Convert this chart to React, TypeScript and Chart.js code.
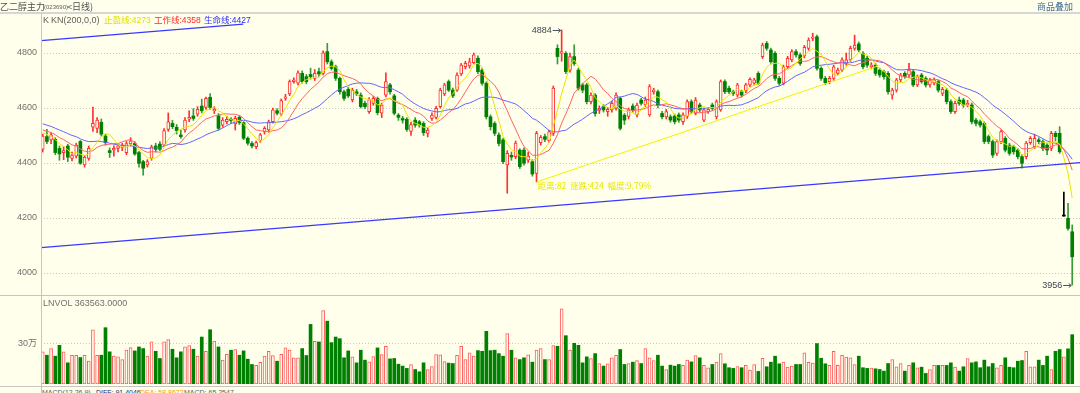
import React, { useEffect, useRef } from "react";
import { Chart, registerables } from "chart.js";

Chart.register(...registerables);

const FONT = "'Liberation Sans', Arial, 'Noto Sans CJK SC', sans-serif";
const CJK = "'Noto Sans CJK SC', 'Liberation Sans', sans-serif";
const BG = "#ffffec";
const UP = "#ff3030";
const DOWN = "#008000";
const DOJI = "#000000";

// ---------- data (daily candles) ----------
const opens = [
  4450, 4496, 4484, 4486, 4453, 4438, 4462, 4417, 4425, 4478,
  4393, 4417, 4530, 4526, 4548, 4498, 4445, 4447, 4453, 4457,
  4438, 4469, 4471, 4438, 4405, 4393, 4417, 4462, 4469, 4465,
  4522, 4544, 4530, 4502, 4520, 4559, 4571, 4578, 4607, 4602,
  4639, 4590, 4574, 4538, 4550, 4559, 4542, 4566, 4547, 4490,
  4471, 4459, 4481, 4514, 4520, 4550, 4590, 4578, 4635, 4651,
  4696, 4690, 4726, 4714, 4722, 4708, 4732, 4726, 4805, 4768,
  4750, 4708, 4659, 4668, 4629, 4659, 4647, 4617, 4587, 4617,
  4635, 4581, 4647, 4684, 4644, 4574, 4562, 4559, 4515, 4556,
  4550, 4544, 4508, 4562, 4566, 4605, 4651, 4696, 4665, 4665,
  4724, 4750, 4753, 4765, 4781, 4738, 4690, 4568, 4544, 4502,
  4484, 4393, 4428, 4423, 4447, 4447, 4410, 4405, 4362, 4474,
  4496, 4481, 4508, 4817, 4799, 4799, 4738, 4787, 4738, 4684,
  4684, 4623, 4647, 4591, 4605, 4587, 4593, 4599, 4635, 4574,
  4569, 4607, 4575, 4629, 4611, 4575, 4659, 4659, 4580, 4568,
  4568, 4571, 4575, 4550, 4569, 4623, 4580, 4611, 4556, 4587,
  4611, 4568, 4593, 4696, 4672, 4659, 4647, 4659, 4663, 4684,
  4690, 4726, 4787, 4835, 4811, 4799, 4708, 4690, 4750, 4775,
  4805, 4793, 4789, 4817, 4853, 4859, 4744, 4708, 4696, 4708,
  4726, 4738, 4762, 4775, 4817, 4833, 4799, 4781, 4750, 4756,
  4738, 4732, 4726, 4647, 4665, 4702, 4726, 4720, 4732, 4684,
  4720, 4708, 4684, 4690, 4696, 4653, 4665, 4623, 4587, 4629,
  4629, 4611, 4611, 4556, 4550, 4544, 4496, 4478, 4435, 4478,
  4490, 4465, 4459, 4447, 4423, 4423, 4474, 4459, 4484, 4478,
  4465, 4453, 4508, 4508, 4207, 4199, 4150,
];
const closes = [
  4498, 4478, 4502, 4438, 4433, 4445, 4421, 4429, 4465, 4399,
  4421, 4453, 4544, 4556, 4505, 4474, 4438, 4453, 4462, 4465,
  4471, 4481, 4433, 4399, 4381, 4405, 4459, 4450, 4450, 4518,
  4550, 4532, 4518, 4496, 4556, 4566, 4562, 4595, 4590, 4635,
  4602, 4595, 4526, 4556, 4559, 4554, 4562, 4547, 4490, 4472,
  4462, 4474, 4502, 4526, 4550, 4593, 4581, 4627, 4641, 4696,
  4702, 4728, 4696, 4696, 4714, 4726, 4724, 4801, 4768, 4744,
  4708, 4659, 4635, 4644, 4665, 4651, 4605, 4605, 4631, 4635,
  4583, 4611, 4696, 4659, 4581, 4566, 4556, 4522, 4540, 4538,
  4538, 4510, 4520, 4574, 4599, 4665, 4684, 4665, 4644, 4720,
  4756, 4762, 4768, 4793, 4732, 4690, 4568, 4532, 4508, 4471,
  4405, 4435, 4422, 4472, 4387, 4399, 4425, 4360, 4508, 4493,
  4486, 4514, 4672, 4787, 4805, 4732, 4787, 4762, 4672, 4665,
  4623, 4647, 4580, 4599, 4593, 4595, 4617, 4647, 4526, 4556,
  4593, 4593, 4611, 4617, 4629, 4678, 4665, 4611, 4568, 4587,
  4556, 4550, 4556, 4575, 4623, 4587, 4629, 4593, 4593, 4595,
  4599, 4623, 4696, 4659, 4659, 4653, 4684, 4647, 4684, 4704,
  4702, 4690, 4829, 4817, 4768, 4708, 4690, 4750, 4781, 4805,
  4793, 4762, 4821, 4847, 4859, 4744, 4708, 4692, 4708, 4750,
  4738, 4775, 4775, 4817, 4829, 4811, 4750, 4756, 4756, 4726,
  4720, 4714, 4659, 4665, 4702, 4720, 4714, 4738, 4684, 4714,
  4696, 4684, 4702, 4702, 4665, 4668, 4623, 4587, 4617, 4617,
  4611, 4617, 4550, 4544, 4538, 4478, 4478, 4429, 4478, 4514,
  4447, 4435, 4441, 4423, 4399, 4472, 4490, 4490, 4478, 4453,
  4447, 4508, 4496, 4441, 4207, 4162, 4059,
];
const highs = [
  4505, 4522, 4510, 4492, 4462, 4460, 4468, 4440, 4472, 4482,
  4428, 4462, 4603, 4565, 4560, 4505, 4455, 4462, 4470, 4472,
  4478, 4492, 4478, 4442, 4410, 4412, 4465, 4472, 4478, 4525,
  4582, 4555, 4540, 4520, 4565, 4590, 4598, 4605, 4632, 4640,
  4652, 4605, 4580, 4565, 4570, 4565, 4570, 4572, 4550, 4495,
  4478, 4480, 4508, 4532, 4556, 4600, 4598, 4633, 4650, 4702,
  4710, 4735, 4735, 4722, 4745, 4740, 4745, 4808, 4835, 4775,
  4756, 4712, 4665, 4675, 4672, 4668, 4655, 4625, 4638, 4642,
  4640, 4618, 4728, 4690, 4650, 4580, 4570, 4565, 4548, 4565,
  4555, 4550, 4528, 4582, 4606, 4672, 4690, 4702, 4672, 4728,
  4762, 4770, 4781, 4800, 4790, 4745, 4695, 4575, 4550, 4510,
  4490, 4445, 4440, 4480, 4452, 4455, 4440, 4412, 4515, 4500,
  4505, 4520, 4680, 4830, 4884, 4805, 4800, 4830, 4745, 4690,
  4690, 4655, 4652, 4608, 4612, 4602, 4625, 4655, 4640, 4580,
  4600, 4615, 4618, 4635, 4640, 4685, 4672, 4665, 4588, 4595,
  4575, 4578, 4582, 4582, 4630, 4630, 4638, 4618, 4600, 4602,
  4618, 4630, 4702, 4702, 4680, 4665, 4690, 4665, 4690, 4710,
  4708, 4732, 4836, 4842, 4818, 4805, 4715, 4756, 4788, 4812,
  4812, 4800, 4828, 4855, 4872, 4865, 4750, 4715, 4715, 4756,
  4745, 4782, 4800, 4825, 4865, 4840, 4805, 4788, 4765, 4762,
  4745, 4738, 4732, 4672, 4708, 4726, 4732, 4762, 4738, 4720,
  4726, 4714, 4708, 4710, 4702, 4675, 4672, 4630, 4625, 4640,
  4635, 4628, 4618, 4562, 4556, 4550, 4502, 4484, 4484, 4520,
  4496, 4472, 4465, 4453, 4430, 4478, 4496, 4505, 4492, 4484,
  4472, 4515, 4515, 4532, 4294, 4253, 4175,
];
const lows = [
  4440, 4470, 4470, 4430, 4410, 4412, 4405, 4408, 4418, 4395,
  4385, 4410, 4515, 4510, 4498, 4465, 4420, 4425, 4440, 4445,
  4430, 4462, 4428, 4385, 4356, 4385, 4410, 4440, 4445, 4460,
  4515, 4525, 4505, 4490, 4512, 4550, 4555, 4570, 4582, 4595,
  4595, 4580, 4520, 4530, 4542, 4545, 4520, 4540, 4485, 4465,
  4455, 4452, 4475, 4505, 4512, 4545, 4575, 4572, 4628, 4645,
  4690, 4684, 4690, 4688, 4705, 4700, 4715, 4720, 4760, 4738,
  4700, 4650, 4628, 4638, 4622, 4645, 4600, 4598, 4580, 4610,
  4575, 4565, 4640, 4650, 4575, 4555, 4545, 4515, 4500, 4530,
  4530, 4500, 4495, 4555, 4560, 4600, 4645, 4660, 4638, 4660,
  4718, 4742, 4745, 4760, 4725, 4683, 4560, 4520, 4500, 4462,
  4398, 4290, 4410, 4415, 4380, 4392, 4402, 4352, 4331, 4465,
  4478, 4475, 4500, 4760, 4770, 4725, 4730, 4755, 4665, 4655,
  4615, 4615, 4570, 4580, 4585, 4570, 4585, 4592, 4520, 4540,
  4560, 4585, 4568, 4610, 4605, 4570, 4650, 4600, 4560, 4560,
  4548, 4542, 4548, 4540, 4562, 4580, 4575, 4585, 4550, 4580,
  4592, 4560, 4588, 4652, 4652, 4645, 4640, 4640, 4655, 4678,
  4684, 4684, 4780, 4810, 4760, 4700, 4682, 4684, 4745, 4768,
  4785, 4755, 4782, 4810, 4845, 4738, 4700, 4685, 4688, 4700,
  4720, 4732, 4755, 4768, 4810, 4805, 4742, 4748, 4742, 4718,
  4712, 4705, 4650, 4632, 4658, 4695, 4708, 4712, 4678, 4678,
  4690, 4676, 4676, 4684, 4658, 4645, 4615, 4580, 4580, 4610,
  4602, 4604, 4542, 4535, 4530, 4470, 4470, 4420, 4428, 4470,
  4440, 4428, 4432, 4415, 4381, 4415, 4468, 4452, 4470, 4445,
  4430, 4445, 4480, 4435, 4207, 4156, 3956,
];
const volumes = [
  237000, 212000, 261000, 205000, 285000, 237000, 156000, 212000, 212000, 195000,
  212000, 168000, 400000, 212000, 212000, 415000, 237000, 205000, 200000, 180000,
  249000, 268000, 244000, 273000, 261000, 205000, 310000, 241000, 188000, 310000,
  327000, 256000, 193000, 237000, 273000, 283000, 256000, 205000, 346000, 241000,
  400000, 317000, 273000, 176000, 219000, 249000, 254000, 212000, 244000, 183000,
  144000, 137000, 159000, 205000, 241000, 210000, 168000, 219000, 266000, 249000,
  193000, 193000, 261000, 210000, 439000, 315000, 310000, 541000, 463000, 305000,
  346000, 334000, 193000, 244000, 200000, 156000, 249000, 176000, 163000, 202000,
  266000, 217000, 278000, 185000, 188000, 146000, 132000, 115000, 144000, 107000,
  90000, 156000, 107000, 129000, 217000, 215000, 166000, 154000, 151000, 212000,
  278000, 180000, 229000, 205000, 246000, 241000, 388000, 246000, 249000, 224000,
  205000, 371000, 249000, 193000, 180000, 193000, 215000, 161000, 249000, 261000,
  180000, 180000, 283000, 278000, 554000, 356000, 249000, 300000, 285000, 156000,
  200000, 188000, 224000, 151000, 132000, 149000, 193000, 212000, 254000, 144000,
  151000, 161000, 173000, 151000, 261000, 193000, 173000, 212000, 132000, 107000,
  139000, 132000, 144000, 137000, 176000, 163000, 210000, 193000, 137000, 120000,
  144000, 161000, 224000, 149000, 120000, 115000, 129000, 120000, 137000, 102000,
  144000, 93000, 190000, 127000, 161000, 205000, 149000, 161000, 124000, 132000,
  144000, 144000, 229000, 159000, 154000, 298000, 190000, 149000, 137000, 241000,
  137000, 212000, 198000, 193000, 144000, 205000, 120000, 115000, 117000, 112000,
  107000, 95000, 151000, 180000, 127000, 151000, 95000, 137000, 156000, 120000,
  124000, 78000, 107000, 137000, 137000, 137000, 137000, 156000, 124000, 95000,
  127000, 188000, 156000, 163000, 120000, 176000, 127000, 151000, 120000, 137000,
  193000, 124000, 120000, 168000, 173000, 241000, 127000, 127000, 176000, 137000,
  205000, 107000, 241000, 254000, 200000, 259000, 363563,
];
// closes before the visible window, inferred from where the averages start
const priorCloses = [
  4580, 4590, 4575, 4560, 4570, 4555, 4565, 4550, 4560, 4545,
  4530, 4540, 4525, 4535, 4520, 4515, 4525, 4505, 4510,
];
const maPeriods = [5, 10, 20];
const maColors = ["#e6e600", "#ff6262", "#6464ff"];

const priceTicks = [4000, 4200, 4400, 4600, 4800];
const volumeTicks = [300000];
const volumeTickLabels = ["30万"];

// drawn lines (index, price)
const lifeLineLow = [
  { x: -0.41, y: 4092.5 },
  { x: 247.86, y: 4401.4 },
];
const lifeLineHigh = [
  { x: -0.41, y: 4845 },
  { x: 47.9, y: 4905 },
];
const measureLine = [
  { x: 118, y: 4331 },
  { x: 200, y: 4755 },
];

const legendItems = [
  { text: "止盈线:4273", color: "#e0e000", left: 104 },
  { text: "工作线:4358", color: "#ff2a2a", left: 154 },
  { text: "生命线:4427", color: "#2a2aff", left: 204 },
];
const macdItems = [
  { text: "MACD(12,26,9)", color: "#606060", left: 42 },
  { text: "DIFF: 91.4046", color: "#1e2a6e", left: 96 },
  { text: "DEA: 58.8672", color: "#ff9a00", left: 140 },
  { text: "MACD: 65.2547", color: "#606060", left: 184 },
];

const X_MIN = -0.41;
const X_MAX = 247.86;
const PRICE_MIN = 3916.4;
const PRICE_MAX = 4945.45;
const VOL_MAX = 641000;

function movingAverage(n: number) {
  const all = priorCloses.concat(closes);
  const off = priorCloses.length;
  return closes.map((_, i) => {
    let s = 0;
    for (let k = off + i - n + 1; k <= off + i; k++) s += all[k];
    return { x: i, y: s / n };
  });
}

const kind = (i: number) =>
  closes[i] > opens[i] ? "up" : closes[i] < opens[i] ? "down" : "doji";

const fixAxis = (s: any) => {
  s.width = 41;
  s.paddingTop = 0;
  s.paddingBottom = 0;
};

const annotationPlugin = {
  id: "kAnnotations",
  afterDatasetsDraw(chart: any) {
    const { ctx } = chart;
    const xs = chart.scales.x;
    const ys = chart.scales.y;
    let hi = 0;
    let lo = 0;
    highs.forEach((h, i) => {
      if (h > highs[hi]) hi = i;
    });
    lows.forEach((l, i) => {
      if (l < lows[lo]) lo = i;
    });
    ctx.save();
    const arrowLabel = (i: number, v: number) => {
      const px = xs.getPixelForValue(i);
      const py = Math.round(ys.getPixelForValue(v)) + 0.5;
      ctx.strokeStyle = "#4a5560";
      ctx.lineWidth = 1;
      ctx.beginPath();
      ctx.moveTo(px - 9, py);
      ctx.lineTo(px - 1, py);
      ctx.moveTo(px - 3.5, py - 2);
      ctx.lineTo(px - 1, py);
      ctx.lineTo(px - 3.5, py + 2);
      ctx.stroke();
      ctx.fillStyle = "#3c4650";
      ctx.font = `9px ${FONT}`;
      ctx.textAlign = "right";
      ctx.textBaseline = "middle";
      ctx.fillText(String(v), px - 10, py);
    };
    arrowLabel(hi, highs[hi]);
    arrowLabel(lo, lows[lo]);

    const a = measureLine[0];
    const b = measureLine[1];
    const dist = b.x - a.x;
    const rise = b.y - a.y;
    const pct = ((rise / a.y) * 100).toFixed(2);
    const mx = xs.getPixelForValue(a.x);
    const my = ys.getPixelForValue(a.y);
    ctx.fillStyle = "#e8e800";
    ctx.font = `8.5px ${CJK}`;
    ctx.textAlign = "left";
    ctx.textBaseline = "middle";
    ctx.fillText(`距离:${dist}  涨跌:${rise}  幅度:${pct}%`, mx + 1, my + 4);
    ctx.restore();
  },
};

export default function App() {
  const priceRef = useRef<HTMLCanvasElement>(null);
  const volRef = useRef<HTMLCanvasElement>(null);

  useEffect(() => {
    const idx = closes.map((_, i) => i);
    const candleColor = idx.map((i) =>
      kind(i) === "up" ? UP : kind(i) === "down" ? DOWN : DOJI
    );
    const wickColor = idx.map((i) =>
      kind(i) === "up" ? UP : kind(i) === "down" ? "#3a9a3a" : DOJI
    );
    const bodyFill = idx.map((i) =>
      kind(i) === "up" ? BG : kind(i) === "down" ? DOWN : DOJI
    );
    const bodyBorder = idx.map((i) => (kind(i) === "up" ? 1 : 0));

    const maSets = maPeriods.map((n, k) => ({
      type: "line" as const,
      data: movingAverage(n),
      borderColor: maColors[k],
      borderWidth: 1,
      pointRadius: 0,
      tension: 0,
      order: 5,
    }));

    const price = new Chart(priceRef.current as HTMLCanvasElement, {
      type: "bar",
      data: {
        datasets: [
          {
            type: "bar",
            data: idx.map((i) => ({ x: i, y: [lows[i], highs[i]] })),
            backgroundColor: wickColor,
            borderWidth: 0,
            barThickness: 1,
            grouped: false,
            order: 10,
          } as any,
          {
            type: "bar",
            data: idx.map((i) => ({ x: i, y: [opens[i], closes[i]] })),
            backgroundColor: bodyFill,
            borderColor: candleColor,
            borderWidth: bodyBorder,
            borderSkipped: false,
            barThickness: 3,
            minBarLength: 1,
            grouped: false,
            order: 9,
          } as any,
          ...maSets,
          {
            type: "line",
            data: lifeLineLow,
            borderColor: "#3838ff",
            borderWidth: 1.2,
            pointRadius: 0,
            order: 4,
          },
          {
            type: "line",
            data: lifeLineHigh,
            borderColor: "#3838ff",
            borderWidth: 1.2,
            pointRadius: 0,
            order: 4,
          },
          {
            type: "line",
            data: measureLine,
            borderColor: "#f2f200",
            borderWidth: 1,
            pointRadius: 0,
            order: 4,
          },
        ] as any,
      },
      options: {
        responsive: false,
        animation: false,
        devicePixelRatio: 1,
        events: [],
        layout: { padding: { top: 13, left: 0, right: 0, bottom: 0 } },
        plugins: { legend: { display: false }, tooltip: { enabled: false } },
        scales: {
          x: { type: "linear", min: X_MIN, max: X_MAX, offset: false, display: false },
          y: {
            type: "linear",
            position: "left",
            min: PRICE_MIN,
            max: PRICE_MAX,
            afterFit: fixAxis,
            afterBuildTicks: (s: any) => {
              s.ticks = priceTicks.map((v) => ({ value: v }));
            },
            grid: { color: "#c9c9bf", lineWidth: 1, drawTicks: false },
            border: { display: false, dash: [1, 2] },
            ticks: {
              color: "#707070",
              padding: 4,
              font: { family: FONT, size: 9 },
              callback: (v: any) => String(v),
            },
          },
        } as any,
      },
      plugins: [annotationPlugin],
    });

    const vol = new Chart(volRef.current as HTMLCanvasElement, {
      type: "bar",
      data: {
        datasets: [
          {
            data: idx.map((i) => ({ x: i, y: volumes[i] })),
            backgroundColor: idx.map((i) => (closes[i] >= opens[i] ? BG : DOWN)),
            borderColor: idx.map((i) => (closes[i] >= opens[i] ? "#ff5a5a" : DOWN)),
            borderWidth: idx.map((i) => (closes[i] >= opens[i] ? 1 : 0)),
            borderSkipped: false,
            barThickness: 3,
            grouped: false,
          } as any,
        ],
      },
      options: {
        responsive: false,
        animation: false,
        devicePixelRatio: 1,
        events: [],
        layout: { padding: { top: 1, left: 0, right: 0, bottom: 2 } },
        plugins: { legend: { display: false }, tooltip: { enabled: false } },
        scales: {
          x: { type: "linear", min: X_MIN, max: X_MAX, offset: false, display: false },
          y: {
            type: "linear",
            position: "left",
            min: 0,
            max: VOL_MAX,
            afterFit: fixAxis,
            afterBuildTicks: (s: any) => {
              s.ticks = volumeTicks.map((v) => ({ value: v }));
            },
            grid: { color: "#c9c9bf", lineWidth: 1, drawTicks: false },
            border: { display: false, dash: [1, 2] },
            ticks: {
              color: "#707070",
              padding: 4,
              font: { family: FONT, size: 9 },
              callback: (v: any) => {
                const k = volumeTicks.indexOf(Number(v));
                return k >= 0 ? volumeTickLabels[k] : "";
              },
            },
          },
        } as any,
      },
    });

    return () => {
      price.destroy();
      vol.destroy();
    };
  }, []);

  const span = (
    key: string,
    left: number,
    top: number,
    text: string,
    color: string,
    size = 9,
    family = FONT
  ) => (
    <span
      key={key}
      style={{
        position: "absolute",
        left,
        top,
        fontSize: size,
        lineHeight: `${size}px`,
        color,
        whiteSpace: "nowrap",
        fontFamily: family,
      }}
    >
      {text}
    </span>
  );

  return (
    <div
      style={{
        position: "absolute",
        left: 0,
        top: 0,
        width: 1080,
        height: 393,
        background: BG,
        overflow: "hidden",
      }}
    >
      <canvas
        ref={priceRef}
        width={1080}
        height={296}
        style={{ position: "absolute", left: 0, top: 0, width: 1080, height: 296 }}
      />
      <canvas
        ref={volRef}
        width={1080}
        height={90}
        style={{ position: "absolute", left: 0, top: 296, width: 1080, height: 90 }}
      />
      <div style={{ position: "absolute", left: 0, top: 12, width: 1080, height: 2, background: "#d6d6d6" }} />
      <div style={{ position: "absolute", left: 0, top: 295, width: 1080, height: 1, background: "#c4c4c4" }} />
      <div style={{ position: "absolute", left: 0, top: 386, width: 1080, height: 1, background: "#c4c4c4" }} />
      <div style={{ position: "absolute", left: 41, top: 13, width: 1, height: 380, background: "#c4c4c4" }} />

      {span("t1", 0, 2, "乙二醇主力", "#505050", 9, CJK)}
      {span("t2", 44, 3.5, "(023690)", "#606060", 6)}
      {span("t3", 67, 2, "<日线)", "#505050", 9, CJK)}
      {span("t4", 1037, 1.5, "商品叠加", "#3f6f92", 9, CJK)}

      {span("k1", 43, 15.5, "K", "#606060")}
      {span("k2", 51, 15.5, "KN(200,0,0)", "#606060")}
      {legendItems.map((it, i) => span(`lg${i}`, it.left, 15.75, it.text, it.color, 8.5))}

      {span("lv", 43, 298.5, "LNVOL 363563.0000", "#707070")}
      {macdItems.map((it, i) => span(`m${i}`, it.left, 389, it.text, it.color, 7))}
    </div>
  );
}
